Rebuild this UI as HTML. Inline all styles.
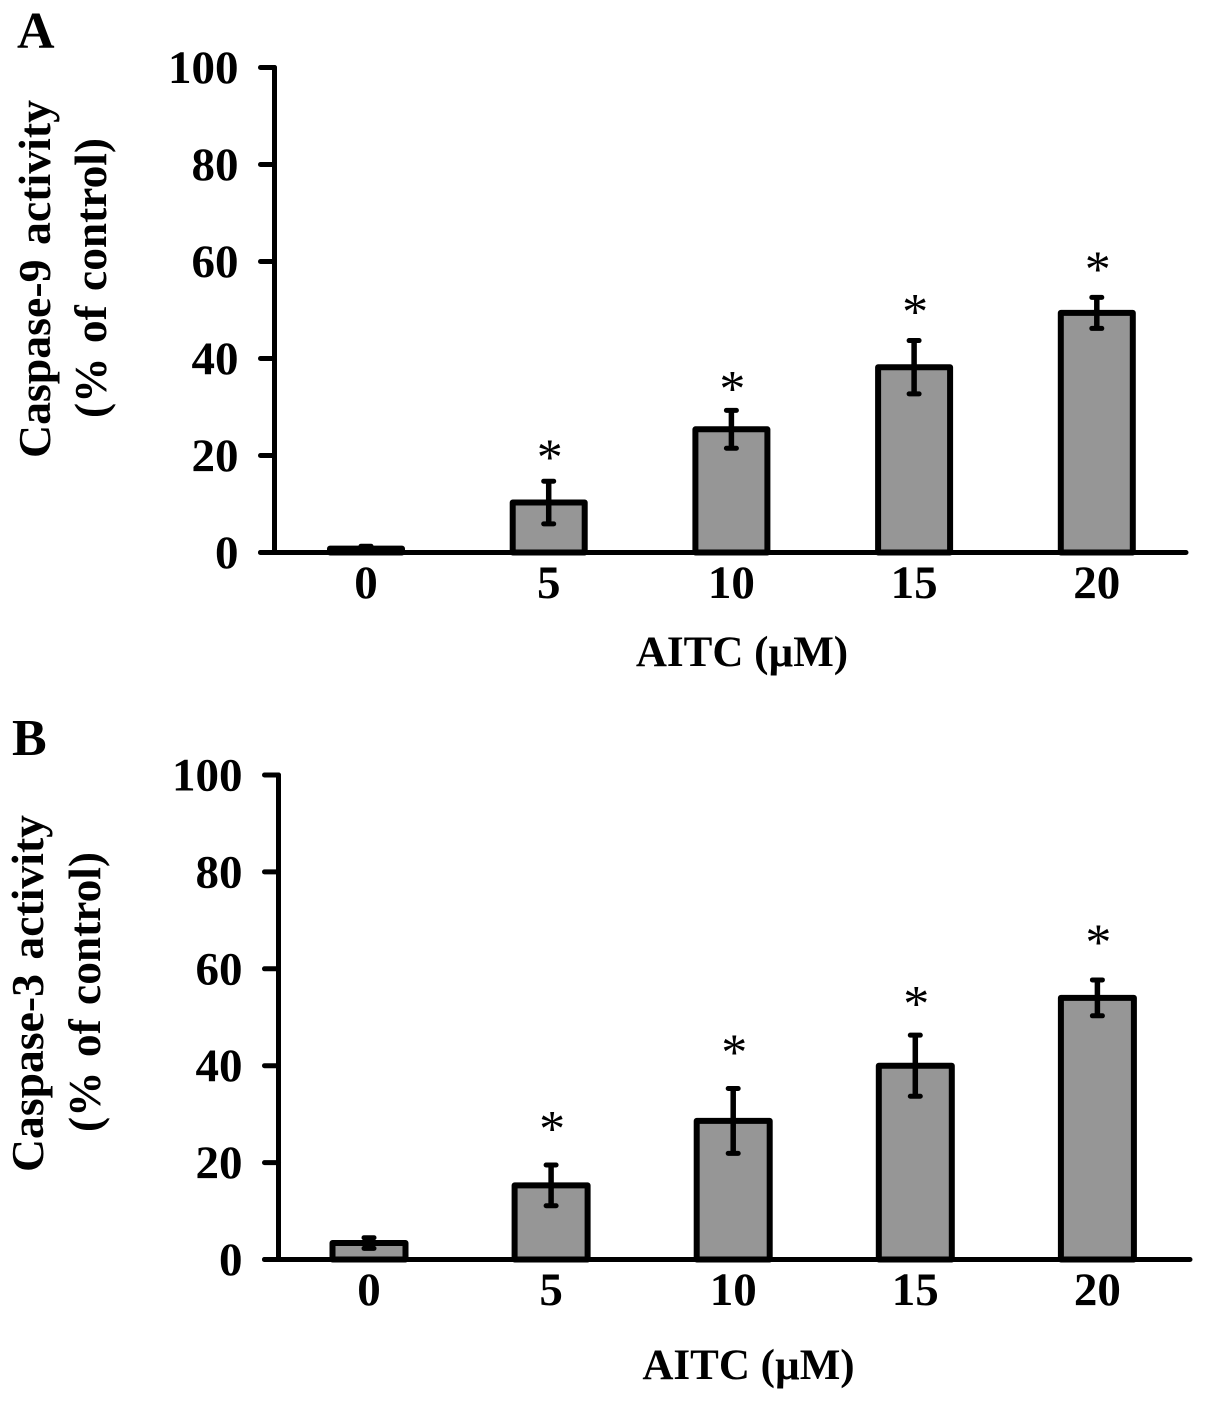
<!DOCTYPE html>
<html lang="en">
<head>
<meta charset="utf-8">
<title>Caspase-9 and Caspase-3 activity vs AITC</title>
<style>
  html, body { margin: 0; padding: 0; background: #fff; }
  svg { display: block; }
  text { font-family: "Liberation Serif", serif; fill: #000; }
  .bold { font-weight: 700; }
</style>
</head>
<body>
<svg id="figure" xmlns="http://www.w3.org/2000/svg" width="1205" height="1401" viewBox="0 0 1205 1401">
  <rect x="0" y="0" width="1205" height="1401" fill="#ffffff"/>
  <text class="bold" x="17" y="48" font-size="52">A</text>
  <text class="bold" x="12" y="755" font-size="52">B</text>
  <text class="bold" transform="translate(50 279) rotate(-90)" text-anchor="middle" font-size="45" word-spacing="3" textLength="358" lengthAdjust="spacingAndGlyphs">Caspase-9 activity</text>
  <text class="bold" transform="translate(106 278) rotate(-90)" text-anchor="middle" font-size="45" word-spacing="3" textLength="280" lengthAdjust="spacingAndGlyphs">(% of control)</text>
  <text class="bold" transform="translate(43 993.5) rotate(-90)" text-anchor="middle" font-size="45" word-spacing="3" textLength="357" lengthAdjust="spacingAndGlyphs">Caspase-3 activity</text>
  <text class="bold" transform="translate(100 992) rotate(-90)" text-anchor="middle" font-size="45" word-spacing="3" textLength="280" lengthAdjust="spacingAndGlyphs">(% of control)</text>
  <text class="bold" x="742" y="666" text-anchor="middle" font-size="43">AITC (µM)</text>
  <text class="bold" x="748.5" y="1379" text-anchor="middle" font-size="43">AITC (µM)</text>
</svg>
<script>
// Chart data
const categories = ['0', '5', '10', '15', '20'];
const yTickLabels = [0, 20, 40, 60, 80, 100];
const caspase9Values = [0.8, 10.3, 25.4, 38.2, 49.4];
const caspase9Errors = [0.5, 4.4, 3.9, 5.5, 3.2];
const caspase9Stars = [null, 21, 35.2, 51, 59.8];
const caspase3Values = [3.4, 15.3, 28.6, 40, 54];
const caspase3Errors = [1.1, 4.2, 6.7, 6.3, 3.7];
const caspase3Stars = [null, 28.4, 44.2, 54.2, 66.9];

const SVG_NS = 'http://www.w3.org/2000/svg';
const figure = document.getElementById('figure');

function make(tag, attrs) {
  const node = document.createElementNS(SVG_NS, tag);
  for (const key in attrs) node.setAttribute(key, attrs[key]);
  figure.appendChild(node);
  return node;
}

function drawPanel(prefix, frame, values, errors, stars) {
  const yScale = v => frame.y0 - (v / 100) * frame.plotHeight;
  const xScale = i => frame.x0 + frame.step * i;
  const stroke = { stroke: '#000', 'stroke-width': 5, 'stroke-linecap': 'round' };

  categories.forEach((label, i) => {
    const top = yScale(values[i]);
    const cx = xScale(i);
    const bar = make('rect', {
      x: cx - frame.barWidth / 2, y: top,
      width: frame.barWidth, height: frame.y0 - top,
      fill: '#969696', stroke: '#000', 'stroke-width': 6, 'stroke-linejoin': 'round'
    });
    
    
  });

  const yAxis = make('line', Object.assign({ x1: frame.axisX, x2: frame.axisX, y1: yScale(100), y2: frame.y0 }, stroke));
  
  

  const xAxis = make('line', Object.assign({ x1: frame.axisX - 14, x2: frame.axisEnd, y1: frame.y0, y2: frame.y0 }, stroke));
  
  

  yTickLabels.forEach(t => {
    const y = yScale(t);
    const tick = make('line', Object.assign({ x1: frame.axisX - 14, x2: frame.axisX, y1: y, y2: y }, stroke));
    
    

    const tickLabel = make('text', {
      x: frame.axisX - 36, y: y + 15.5, 'text-anchor': 'end', 'font-size': 47, 'font-weight': 700
    });
    tickLabel.textContent = String(t);
    
    
  });

  categories.forEach((label, i) => {
    const cx = xScale(i);
    const hi = yScale(values[i] + errors[i]);
    const lo = yScale(values[i] - errors[i]);

    const stem = make('line', { x1: cx, x2: cx, y1: hi, y2: lo, stroke: '#000', 'stroke-width': 5.5 });
    
    

    const capTop = make('line', Object.assign({ x1: cx - 5, x2: cx + 5, y1: hi, y2: hi }, stroke));
    
    

    const capBottom = make('line', Object.assign({ x1: cx - 5, x2: cx + 5, y1: lo, y2: lo }, stroke));
    
    

    const catLabel = make('text', {
      x: cx, y: frame.y0 + 45.5, 'text-anchor': 'middle', 'font-size': 47, 'font-weight': 700
    });
    catLabel.textContent = label;
    
    

    if (stars[i] !== null) {
      const star = make('text', {
        x: cx + 1, y: yScale(stars[i]) + 24, 'text-anchor': 'middle', 'font-size': 52
      });
      star.textContent = '*';
      
      
    }
  });
}

drawPanel('panel-a',
  { axisX: 274.5, axisEnd: 1186, y0: 552.5, plotHeight: 485, x0: 366, step: 182.7, barWidth: 72 },
  caspase9Values, caspase9Errors, caspase9Stars);

drawPanel('panel-b',
  { axisX: 278.5, axisEnd: 1190, y0: 1259.5, plotHeight: 484.5, x0: 369, step: 182.1, barWidth: 73 },
  caspase3Values, caspase3Errors, caspase3Stars);
</script>
</body>
</html>
